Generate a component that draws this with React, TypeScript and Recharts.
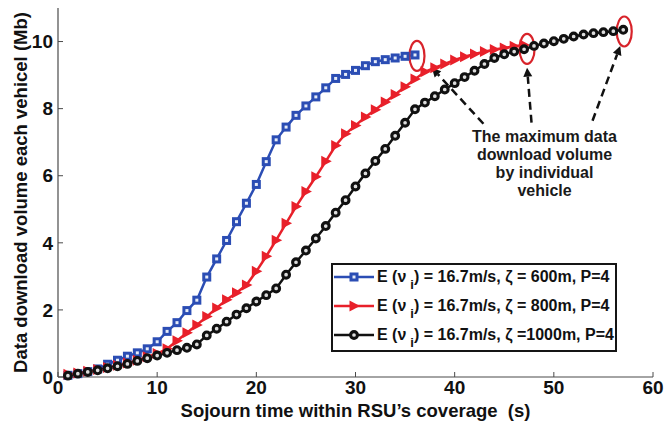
import React from 'react'
import {
  LineChart,
  Line,
  XAxis,
  YAxis,
  Legend,
  ReferenceDot,
  ReferenceLine,
} from 'recharts'

// Download volume per vehicle vs. sojourn time, three RSU coverage radii

const sojournTime = [
  1, 2, 3, 4, 5, 6, 7, 8, 9, 10, 11, 12, 13, 14, 15, 16, 17, 18, 19, 20,
  21, 22, 23, 24, 25, 26, 27, 28, 29, 30, 31, 32, 33, 34, 35, 36, 37, 38, 39, 40,
  41, 42, 43, 44, 45, 46, 47, 48, 49, 50, 51, 52, 53, 54, 55, 56, 57,
]

// zeta = 600m (ends at 36 s)
const vol600 = [
  0.05, 0.1, 0.16, 0.24, 0.38, 0.5, 0.62, 0.72, 0.84, 1.05,
  1.36, 1.62, 1.98, 2.29, 2.98, 3.52, 4.07, 4.63, 5.18, 5.74,
  6.42, 7.07, 7.45, 7.8, 8.08, 8.35, 8.62, 8.9, 9.02, 9.14,
  9.28, 9.4, 9.46, 9.51, 9.56, 9.6,
]

// zeta = 800m (ends at 47 s)
const vol800 = [
  0.08, 0.12, 0.17, 0.22, 0.28, 0.35, 0.42, 0.5, 0.6, 0.7,
  0.84, 1.08, 1.32, 1.55, 1.8, 2.06, 2.3, 2.51, 2.74, 3.15,
  3.6, 4.08, 4.58, 5.08, 5.53, 5.97, 6.43, 6.9, 7.25, 7.5,
  7.75, 7.97, 8.2, 8.42, 8.65, 8.88, 9.1, 9.22, 9.33, 9.45,
  9.55, 9.63, 9.7, 9.76, 9.81, 9.86, 9.9,
]

// zeta = 1000m (ends at 57 s)
const vol1000 = [
  0.04, 0.1, 0.15, 0.2, 0.26, 0.32, 0.39, 0.48, 0.56, 0.64,
  0.72, 0.8, 0.87, 0.97, 1.24, 1.44, 1.65, 1.86, 2.05, 2.25,
  2.44, 2.64, 3.05, 3.42, 3.77, 4.13, 4.5, 4.9, 5.27, 5.68,
  6.07, 6.44, 6.8, 7.19, 7.58, 7.98, 8.18, 8.37, 8.57, 8.76,
  8.94, 9.13, 9.33, 9.51, 9.62, 9.7, 9.77, 9.87, 9.94, 10.01,
  10.08, 10.15, 10.21, 10.25, 10.28, 10.31, 10.35,
]

const xTicks = [0, 10, 20, 30, 40, 50, 60]
const yTicks = [0, 2, 4, 6, 8, 10]

// red rings around each curve's end point
const peakRings = [
  { t: 36.2, v: 9.57 },
  { t: 47.3, v: 9.78 },
  { t: 57.1, v: 10.3 },
]

// dashed callout arrows: from the note text to the rings
const calloutArrows = [
  { from: { t: 42.9, v: 7.55 }, to: { t: 37.7, v: 9.22 } },
  { from: { t: 47.75, v: 7.58 }, to: { t: 47.3, v: 9.22 } },
  { from: { t: 53.9, v: 7.64 }, to: { t: 56.7, v: 9.87 } },
]

const noteAnchor = { t: 49.06, v: 7.02 }
const noteLines = ['The maximum data', 'download volume', 'by individual', 'vehicle']

const rows = sojournTime.map((t, i) => ({
  t,
  v600: vol600[i],
  v800: vol800[i],
  v1000: vol1000[i],
}))

const BLUE = '#2b4db4'
const RED = '#e8202a'
const BLACK = '#111111'
const RING = '#d8232a'
const AXIS = '#4a4a4a'
const FONT = '"Liberation Sans", Arial, Helvetica, sans-serif'

const tickStyle = { fill: '#111', fontSize: 19, fontWeight: 700, fontFamily: FONT }

// ── markers ──────────────────────────────
function squareMark(cx: number, cy: number, key?: string) {
  return (
    <rect key={key} x={cx - 3} y={cy - 3} width={6} height={6}
      fill="#e6ecf8" stroke={BLUE} strokeWidth={3} />
  )
}
function triangleMark(cx: number, cy: number, key?: string) {
  return (
    <polygon key={key} fill={RED}
      points={`${cx - 4.5},${cy - 5.5} ${cx - 4.5},${cy + 5.5} ${cx + 6},${cy}`} />
  )
}
function circleMark(cx: number, cy: number, key?: string) {
  return (
    <circle key={key} cx={cx} cy={cy} r={3.4}
      fill="#ddd" stroke={BLACK} strokeWidth={3.1} />
  )
}

const dotRenderer = (draw: typeof squareMark, tag: string) => (p: any) => {
  const k = `${tag}-${p.index}`
  if (p.cx == null || p.cy == null || p.value == null) return <g key={k} />
  return draw(p.cx, p.cy, k)
}

// ── annotations ──────────────────────────
function Ring({ cx, cy }: any) {
  return <ellipse cx={cx} cy={cy} rx={7.5} ry={15} fill="none" stroke={RING} strokeWidth={2.2} />
}

function DashedArrow({ x1, y1, x2, y2 }: any) {
  const dx = x2 - x1
  const dy = y2 - y1
  const len = Math.hypot(dx, dy) || 1
  const ux = dx / len
  const uy = dy / len
  const head = 9
  const half = 4.5
  const bx = x2 - ux * head
  const by = y2 - uy * head
  return (
    <g>
      <line x1={x1} y1={y1} x2={bx} y2={by} stroke="#111" strokeWidth={2.5} strokeDasharray="8 5" />
      <polygon fill="#111"
        points={`${x2},${y2} ${bx - uy * half},${by + ux * half} ${bx + uy * half},${by - ux * half}`} />
    </g>
  )
}

function Note({ cx, cy }: any) {
  return (
    <text x={cx} y={cy} textAnchor="middle" fill="#1a1a1a"
      fontFamily={FONT} fontSize={16} fontWeight={700}>
      {noteLines.map((line, i) => (
        <tspan key={line} x={cx} dy={i === 0 ? 0 : 18.3}>{line}</tspan>
      ))}
    </text>
  )
}

// ── legend ───────────────────────────────
const legendRows = [
  { color: BLUE, mark: squareMark, zeta: '\u03b6 = 600m' },
  { color: RED, mark: triangleMark, zeta: '\u03b6 = 800m' },
  { color: BLACK, mark: circleMark, zeta: '\u03b6 =1000m' },
]

function LegendBox() {
  return (
    <div
      style={{
        position: 'relative',
        width: 286,
        height: 89,
        boxSizing: 'border-box',
        border: '2px solid #151515',
        background: '#fff',
        fontFamily: FONT,
        fontWeight: 700,
        fontSize: 16,
        color: '#111',
      }}
    >
      {legendRows.map((row, i) => (
        <div
          key={row.zeta}
          style={{
            position: 'absolute',
            left: 0,
            top: 11.7 + i * 29.3 - 10,
            height: 20,
            display: 'flex',
            alignItems: 'center',
            whiteSpace: 'nowrap',
          }}
        >
          <svg width={42} height={20} style={{ display: 'block' }}>
            <line x1={1} y1={10} x2={41} y2={10} stroke={row.color} strokeWidth={2.5} />
            {row.mark(21, 10)}
          </svg>
          <span style={{ marginLeft: 2 }}>
            {'E (\u03bd'}
            <span style={{ position: 'relative', top: 7, fontSize: 13, marginLeft: 4 }}>i</span>
            {`) = 16.7m/s, ${row.zeta}, P=4`}
          </span>
        </div>
      ))}
    </div>
  )
}

export default function App() {
  return (
    <div style={{ position: 'absolute', left: 0, top: 0, background: '#fff' }}>
      <LineChart
        width={664}
        height={424}
        data={rows}
        margin={{ top: 8, right: 11, bottom: 0, left: 0 }}
      >
        {/* frame: bottom/left carry labels, top/right carry only inward ticks */}
        <XAxis
          dataKey="t"
          type="number"
          domain={[0, 60]}
          ticks={xTicks}
          height={47}
          tickSize={-5}
          tickMargin={9}
          tick={tickStyle}
          axisLine={{ stroke: AXIS, strokeWidth: 1.2 }}
          tickLine={{ stroke: AXIS }}
          label={{
            value: 'Sojourn time within RSU\u2019s coverage\u00a0 (s)',
            position: 'insideBottom',
            offset: 7,
            fill: '#111',
            fontSize: 18.5,
            fontWeight: 700,
            fontFamily: FONT,
          }}
        />
        <XAxis
          xAxisId="top"
          orientation="top"
          type="number"
          domain={[0, 60]}
          ticks={xTicks}
          height={0}
          tickSize={-5}
          tick={false}
          axisLine={{ stroke: AXIS, strokeWidth: 1.2 }}
          tickLine={{ stroke: AXIS }}
        />
        <YAxis
          type="number"
          domain={[0, 11]}
          ticks={yTicks}
          width={58}
          tickSize={-5}
          tickMargin={10}
          tick={tickStyle}
          axisLine={{ stroke: AXIS, strokeWidth: 1.2 }}
          tickLine={{ stroke: AXIS }}
          label={{
            value: 'Data download volume each vehicel (Mb)',
            angle: -90,
            position: 'insideLeft',
            offset: 20,
            fill: '#111',
            fontSize: 18.5,
            fontWeight: 700,
            fontFamily: FONT,
            style: { textAnchor: 'middle' },
          }}
        />
        <YAxis
          yAxisId="right"
          orientation="right"
          type="number"
          domain={[0, 11]}
          ticks={yTicks}
          width={0}
          tickSize={-5}
          tick={false}
          axisLine={{ stroke: '#8a8a8a', strokeWidth: 1.2 }}
          tickLine={{ stroke: AXIS }}
        />

        <Legend
          layout="horizontal"
          verticalAlign="middle"
          align="center"
          wrapperStyle={{ left: 331, top: 263, width: 286, height: 89 }}
          content={() => <LegendBox />}
        />

        <Line
          dataKey="v600"
          stroke={BLUE}
          strokeWidth={2.5}
          dot={dotRenderer(squareMark, 'sq')}
          activeDot={false}
          isAnimationActive={false}
        />
        <Line
          dataKey="v800"
          stroke={RED}
          strokeWidth={2.5}
          dot={dotRenderer(triangleMark, 'tr')}
          activeDot={false}
          isAnimationActive={false}
        />
        <Line
          dataKey="v1000"
          stroke={BLACK}
          strokeWidth={2.5}
          dot={dotRenderer(circleMark, 'ci')}
          activeDot={false}
          isAnimationActive={false}
        />

        {peakRings.map((r) => (
          <ReferenceDot key={`ring-${r.t}`} x={r.t} y={r.v} r={0} shape={(p: any) => <Ring {...p} />} />
        ))}
        {calloutArrows.map((a) => (
          <ReferenceLine
            key={`arrow-${a.to.t}`}
            segment={[{ x: a.from.t, y: a.from.v }, { x: a.to.t, y: a.to.v }]}
            shape={(p: any) => <DashedArrow {...p} />}
          />
        ))}
        <ReferenceDot x={noteAnchor.t} y={noteAnchor.v} r={0} shape={(p: any) => <Note {...p} />} />
      </LineChart>
    </div>
  )
}
